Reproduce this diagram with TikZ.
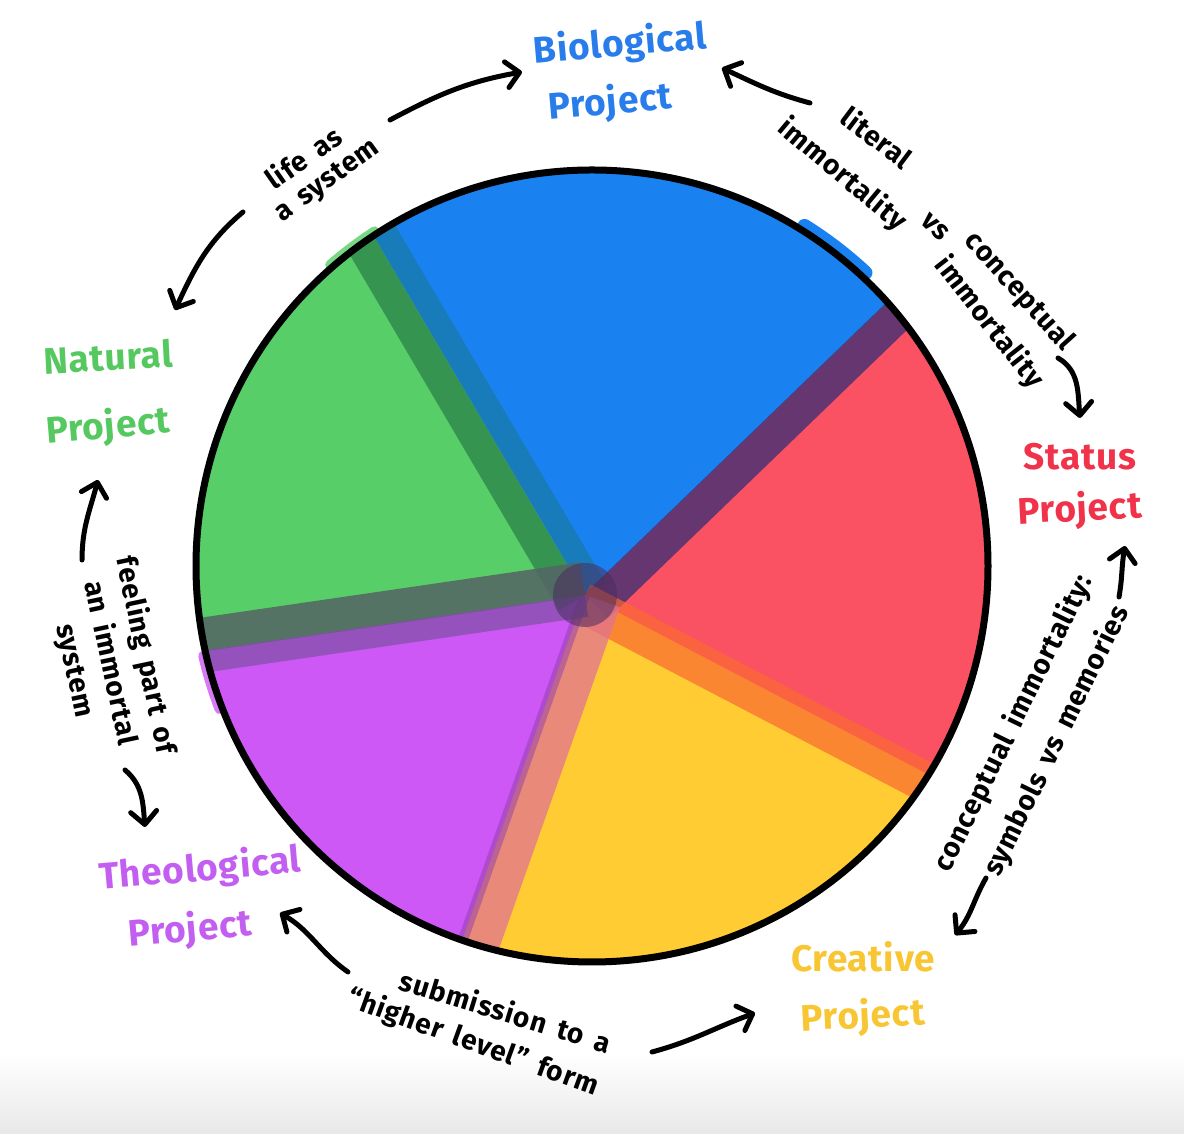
\documentclass[tikz,border=0pt]{standalone}
\usepackage{fontspec}
\setmainfont{Fira Sans}
\newfontfamily\lblfont{Fira Sans}[WordSpace=1.6, LetterSpace=3]
\newfontfamily\ttlfont{Fira Sans}[LetterSpace=2]
\usetikzlibrary{arrows.meta}
\definecolor{cBlue}{RGB}{26,130,240}
\definecolor{cGreen}{RGB}{88,206,104}
\definecolor{cRed}{RGB}{250,82,98}
\definecolor{cYellow}{RGB}{255,204,52}
\definecolor{cPurple}{RGB}{206,88,246}
\definecolor{tBlue}{RGB}{40,125,235}
\definecolor{tRed}{RGB}{240,50,75}
\definecolor{tYellow}{RGB}{248,198,50}
\definecolor{tPurple}{RGB}{195,95,240}
\definecolor{tGreen}{RGB}{85,200,95}
\definecolor{bGreenDark}{RGB}{45,135,75}
\definecolor{bTeal}{RGB}{25,120,150}
\definecolor{bNavy}{RGB}{75,50,115}
\definecolor{bOrange}{RGB}{250,105,50}
\definecolor{bPink}{RGB}{225,115,145}
\definecolor{bGray}{RGB}{85,100,100}
\definecolor{bPurpGray}{RGB}{125,80,165}
\definecolor{bCenter}{RGB}{75,45,95}
\begin{document}
\begin{tikzpicture}[x=1pt,y=1pt,
  title/.style={font=\ttlfont\bfseries\fontsize{37}{42}\selectfont, inner sep=0pt},
  lbl/.style={font=\lblfont\bfseries\fontsize{28}{36}\selectfont, inner sep=0pt, text=black},
  conn/.style={line width=5pt, line cap=round, -{Straight Barb[round,length=13pt,width=26pt]}},
  band/.style={line cap=butt, opacity=.8}
]
\useasboundingbox (0,0) rectangle (1184,1134);
\shade[top color=white,bottom color=black!9] (0,0) rectangle (1184,80);
\coordinate (C) at (592,568);
\coordinate (P) at (585,539);
% paint outside the rim
\draw[cBlue, line width=14pt, line cap=round] (C) ++(47:401) arc[start angle=47,end angle=58,radius=401];
\draw[cGreen, line width=10pt, line cap=round, opacity=.8] (C) ++(123:399) arc[start angle=123,end angle=131,radius=399];
\draw[cPurple, line width=10pt, line cap=round, opacity=.8] (C) ++(193:399) arc[start angle=193,end angle=201,radius=399];
\begin{scope}
\clip (C) circle[radius=396];
\fill[cBlue] (P) -- ++(44:700) arc[start angle=44,end angle=120.5,radius=700] -- cycle;
\fill[cGreen] (P) -- ++(120.5:700) arc[start angle=120.5,end angle=188.3,radius=700] -- cycle;
\fill[cPurple] (P) -- ++(188.3:700) arc[start angle=188.3,end angle=250.5,radius=700] -- cycle;
\fill[cYellow] (P) -- ++(250.5:700) arc[start angle=250.5,end angle=332.4,radius=700] -- cycle;
\fill[cRed] (P) -- ++(-27.6:700) arc[start angle=-27.6,end angle=44,radius=700] -- cycle;
% painted borders
\draw[band, bGreenDark, line width=30pt, shift={(210.5:15)}] (585,539) -- ++(120.5:700);
\draw[band, bTeal, line width=24pt, opacity=.6, shift={(30.5:12)}] (585,539) -- ++(120.5:700);
\draw[band, bNavy, line width=34pt, opacity=.85, shift={(-46:16)}] (585,539) -- ++(44:700);
\draw[band, bOrange, line width=40pt, opacity=.7, shift={(-117.6:8)}] (585,539) -- ++(-27.6:700);
\draw[band, bPink, line width=38pt, opacity=.75, shift={(340.5:18)}] (585,539) -- ++(250.5:700);
\draw[band, cPurple!70!black, line width=10pt, opacity=.5] (585,539) -- ++(250.5:700);
\draw[band, bGray, line width=34pt, opacity=.85, shift={(98.3:16)}] (585,539) -- ++(188.3:700);
\draw[band, bPurpGray, line width=22pt, opacity=.7, shift={(278.3:11)}] (585,539) -- ++(188.3:700);
\fill[bCenter, opacity=.55] (P) circle[radius=32];
\end{scope}
\draw[line width=7pt] (C) circle[radius=396];

% titles
\node[title,text=tBlue,rotate=5] (bio1) at (620,1089) {Biological};
\node[title,text=tBlue,rotate=5] (bio2) at (610,1031) {Project};
\node[title,text=tRed] (stat1) at (1080,677) {Status};
\node[title,text=tRed,rotate=3] (stat2) at (1080,624) {Project};
\node[title,text=tYellow] (cre1) at (863,177) {Creative};
\node[title,text=tYellow,rotate=3] (cre2) at (863,117) {Project};
\node[title,text=tPurple,rotate=5] (theo1) at (200,264) {Theological};
\node[title,text=tPurple,rotate=5] (theo2) at (190,204) {Project};
\node[title,text=tGreen,rotate=3] (nat1) at (108,777) {Natural};
\node[title,text=tGreen,rotate=5] (nat2) at (108,707) {Project};

% labels
\node[lbl,rotate=35] (life1) at (303,977) {life as};
\node[lbl,rotate=36] (life2) at (328,952) {a system};
\node[lbl,rotate=-37] (lit1) at (877,997) {literal};
\node[lbl,rotate=-40] (imm1) at (842,959) {immortality};
\node[lbl,rotate=-45] (vs1) at (935,907) {vs};
\node[lbl,rotate=-48] (conc1) at (1019,842) {conceptual};
\node[lbl,rotate=-52] (imm2) at (989,811) {immortality};
\node[lbl,rotate=64] (ci1) at (1014,411) {conceptual immortality:};
\node[lbl,rotate=64] (ci2) at (1057,393) {symbols vs memories};
\node[lbl,rotate=-17] (sub1) at (506,123) {submission to a};
\node[lbl,rotate=-20] (sub2) at (473,91) {“higher level” form};
\node[lbl,rotate=-78,align=center] (feel) at (110,471) {feeling part of\\an immortal\\system};

% connector ends
\coordinate (a1s) at (390,1014); \coordinate (a1e) at (522,1062);
\coordinate (a2s) at (243,922);  \coordinate (a2e) at (175,824);
\coordinate (a3s) at (810,1031); \coordinate (a3e) at (722,1066);
\coordinate (a4s) at (1058,776); \coordinate (a4e) at (1080,716);
\coordinate (a5s) at (1119,537); \coordinate (a5e) at (1125,588);
\coordinate (a6s) at (986,256);  \coordinate (a6e) at (955,199);
\coordinate (a7s) at (348,162);  \coordinate (a7e) at (280,221);
\coordinate (a8s) at (652,82);   \coordinate (a8e) at (755,121);
\coordinate (a9s) at (82,574);   \coordinate (a9e) at (98,654);
\coordinate (a10s) at (125,364); \coordinate (a10e) at (145,307);

\draw[conn] (a1s) to[out=28,in=190] (a1e);
\draw[conn] (a2s) to[out=220,in=65] (a2e);
\draw[conn] (a3s) to[out=165,in=-25] (a3e);
\draw[conn] (a4s) to[out=-30,in=95] (a4e);
\draw[conn] (a5s) to[out=80,in=-100] (a5e);
\draw[conn] (a6s) to[out=240,in=50] (a6e);
\draw[conn] (a7s) to[out=145,in=-30] (a7e);
\draw[conn] (a8s) to[out=15,in=200] (a8e);
\draw[conn] (a9s) to[out=90,in=-105] (a9e);
\draw[conn] (a10s) to[out=-40,in=95] (a10e);
\end{tikzpicture}
\end{document}
